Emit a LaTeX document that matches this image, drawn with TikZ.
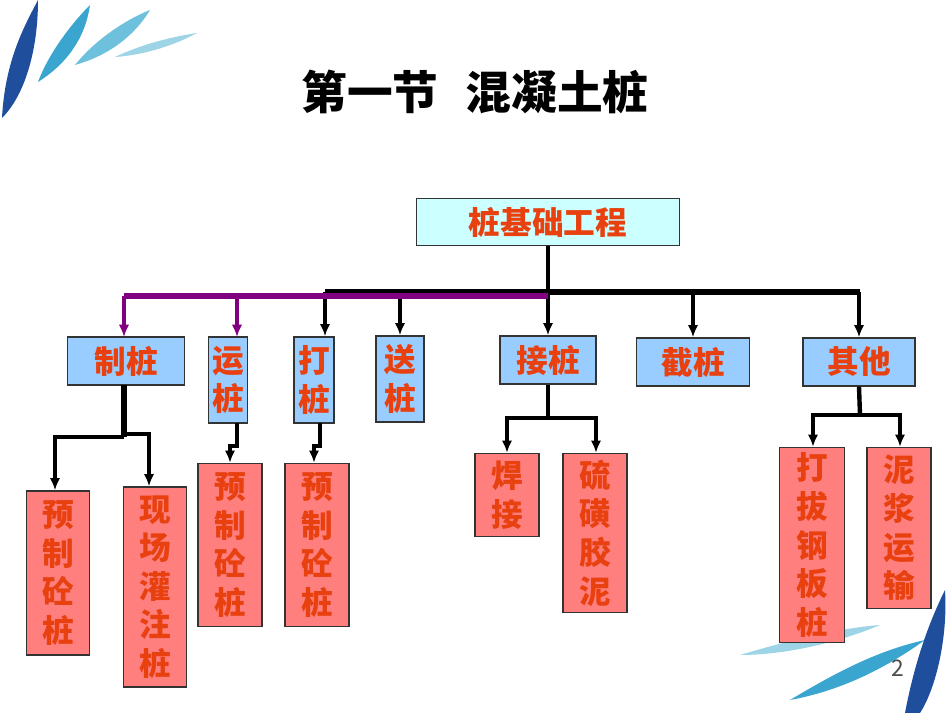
\documentclass[tikz,border=0pt]{standalone}
\usepackage{fontspec}
\setmainfont{Noto Sans CJK SC}
\usetikzlibrary{arrows.meta}
\definecolor{txtred}{HTML}{E8400F}
\definecolor{boxblue}{HTML}{99CCFF}
\definecolor{boxpink}{HTML}{FF7F7F}
\definecolor{boxcyan}{HTML}{CCFFFF}
\definecolor{lineviolet}{HTML}{800080}
\definecolor{leafa}{HTML}{1F4E9C}
\definecolor{leafb}{HTML}{3AA6D0}
\definecolor{leafc}{HTML}{6EC1DC}
\definecolor{leafd}{HTML}{9DD5E6}
\tikzset{
  box/.style={draw=black!80,thick,inner sep=0pt,align=center,text=txtred,font=\fontsize{18}{22}\selectfont\bfseries},
  l1/.style={box,fill=boxblue},
  l2/.style={box,fill=boxpink},
  arr/.style={-{Latex[length=7pt,width=6pt]},line width=2pt}
}
\begin{document}
\begin{tikzpicture}[x=0.02cm,y=-0.02cm]
\useasboundingbox[fill=white] (0,0) rectangle (950,713);

% decoration top left
\fill[leafa] (2,118) .. controls (5,60) and (25,25) .. (38,0) .. controls (38,50) and (25,95) .. (2,118);
\fill[leafb] (38,82) .. controls (50,50) and (75,20) .. (90,5) .. controls (85,40) and (65,65) .. (38,82);
\fill[leafc] (75,65) .. controls (95,40) and (125,20) .. (150,10) .. controls (135,35) and (110,55) .. (75,65);
\fill[leafd] (115,57) .. controls (140,45) and (170,37) .. (197,33) .. controls (175,45) and (145,55) .. (115,57);
% decoration bottom right
\fill[leafd] (740,655) .. controls (790,640) and (840,628) .. (880,625) .. controls (845,640) and (790,655) .. (740,655);
\fill[leafb] (790,700) .. controls (840,670) and (880,650) .. (925,640) .. controls (890,665) and (845,690) .. (790,700);
\fill[leafa] (905,713) .. controls (915,660) and (930,620) .. (945,590) .. controls (948,640) and (935,690) .. (920,713);

\node[font=\fontsize{26}{30}\selectfont\bfseries] (title) at (475,92) {第一节\hspace{0.6em}混凝土桩};
\node[font=\fontsize{13}{15}\selectfont,text=black!70] (page) at (898,668) {2};

\node[box,fill=boxcyan,minimum width=263*0.02cm,minimum height=47*0.02cm] (root) at (548,222) {桩基础工程};

\node[l1,minimum width=117*0.02cm,minimum height=48*0.02cm] (zhi) at (126,361) {制桩};
\node[l1,minimum width=39*0.02cm,minimum height=86*0.02cm] (yun) at (228,380) {运\\桩};
\node[l1,minimum width=40*0.02cm,minimum height=86*0.02cm] (da) at (314,380) {打\\桩};
\node[l1,minimum width=48*0.02cm,minimum height=86*0.02cm] (song) at (400,379) {送\\桩};
\node[l1,minimum width=96*0.02cm,minimum height=48*0.02cm] (jie) at (548,360) {接桩};
\node[l1,minimum width=113*0.02cm,minimum height=48*0.02cm] (jiezh) at (693,362) {截桩};
\node[l1,minimum width=112*0.02cm,minimum height=48*0.02cm] (qita) at (859,362) {其他};

\node[l2,minimum width=63*0.02cm,minimum height=164*0.02cm] (yz1) at (58,573) {预\\制\\砼\\桩};
\node[l2,minimum width=63*0.02cm,minimum height=200*0.02cm] (xc) at (155,587) {现\\场\\灌\\注\\桩};
\node[l2,minimum width=64*0.02cm,minimum height=163*0.02cm] (yz2) at (230,545) {预\\制\\砼\\桩};
\node[l2,minimum width=64*0.02cm,minimum height=163*0.02cm] (yz3) at (317,545) {预\\制\\砼\\桩};
\node[l2,minimum width=64*0.02cm,minimum height=83*0.02cm] (hj) at (507,495) {焊\\接};
\node[l2,minimum width=64*0.02cm,minimum height=159*0.02cm] (lh) at (595,533) {硫\\磺\\胶\\泥};
\node[l2,minimum width=65*0.02cm,minimum height=195*0.02cm] (db) at (812,545) {打\\拔\\钢\\板\\桩};
\node[l2,minimum width=64*0.02cm,minimum height=161*0.02cm] (nj) at (899,528) {泥\\浆\\运\\输};

% main bus
\coordinate (bus) at (548,292);
\draw[line width=2.5pt] (root.south) -- (bus);
\draw[line width=3pt] (325,292) -- (860,292);
\draw[arr] (325,292) -- (da.north -| 325,0);
\draw[arr] (song.north |- bus) -- (song.north);
\draw[arr] (bus) -- (jie.north);
\draw[arr] (jiezh.north |- bus) -- (jiezh.north);
\draw[arr] (qita.north |- bus) -- (qita.north);
\draw[line width=3pt,lineviolet] (548,296) -- (124,296);
\draw[arr,lineviolet] (124,296) -- (124,337);
\draw[arr,lineviolet] (237,296) -- (237,337);

% second level
\draw[line width=3pt] (124,385) -- (124,437);
\draw[arr] (124,434) -- (149,434) -- (xc.north -| 149,0);
\draw[arr] (124,437) -- (55,437) -- (yz1.north -| 55,0);
\draw[arr] (237,423) -- (237,446) -- (230,446) -- (yz2.north);
\draw[arr] (320,423) -- (320,446) -- (314,446) -- (yz3.north -| 314,0);
\draw[line width=2.5pt] (jie.south) -- (548,418);
\draw[arr] (548,418) -- (507,418) -- (hj.north);
\draw[arr] (548,418) -- (596,418) -- (lh.north -| 596,0);
\draw[line width=2.5pt] (qita.south) -- (860,415);
\draw[arr] (860,415) -- (813,415) -- (db.north -| 813,0);
\draw[arr] (860,415) -- (900,415) -- (nj.north -| 900,0);
\end{tikzpicture}
\end{document}
